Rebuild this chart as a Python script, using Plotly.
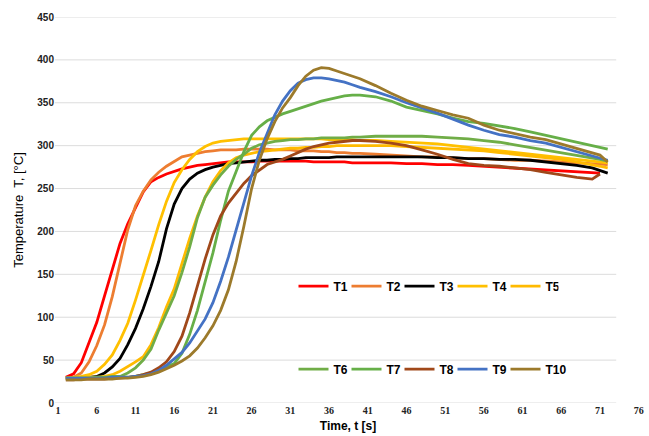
import plotly.graph_objects as go

# time points [s]
time = list(range(2, 41)) + list(range(42, 71, 2)) + [71, 72]

T1 = [30, 34, 47, 70, 94, 125, 157, 186, 209, 228,
      246, 258, 263, 267, 270, 273, 275, 277, 278, 279,
      280, 281, 281, 281, 281, 282, 282, 282, 282, 282,
      282, 282, 281, 281, 281, 281, 281, 280, 280,
      280, 280, 279, 279, 278, 278, 277, 276, 275, 274, 273, 272, 271, 270, 269,
      268, None]
T2 = [29, 30, 35, 48, 67, 91, 124, 163, 202, 230,
      247, 260, 269, 276, 282, 287, 289, 291, 293, 294,
      295, 295, 295, 296, 296, 296, 296, 295, 295, 295,
      294, 294, 294, 293, 293, 292, 292, 291, 291,
      290, 289, 288, 287, 287, 286, 285, 285, 284, 283, 283, 282, 281, 280, 279,
      279, 278]
T3 = [29, 29, 30, 30, 31, 35, 42, 52, 68, 87,
      110, 136, 165, 203, 232, 250, 261, 268, 272, 275,
      277, 279, 280, 281, 282, 283, 283, 284, 284, 285,
      285, 286, 286, 286, 286, 287, 287, 287, 287,
      287, 287, 287, 287, 286, 286, 285, 285, 284, 284, 283, 281, 279, 277, 274,
      271, 268]
T4 = [29, 30, 31, 33, 37, 45, 56, 73, 93, 120,
      148, 178, 208, 235, 257, 272, 284, 293, 299, 303,
      305, 306, 307, 308, 308, 308, 308, 308, 308, 308,
      308, 308, 308, 308, 307, 307, 307, 307, 306,
      306, 305, 304, 303, 302, 300, 298, 296, 294, 292, 290, 288, 286, 284, 282,
      281, 280]
T5 = [29, 29, 29, 30, 30, 31, 33, 37, 42, 48,
      54, 68, 88, 112, 133, 162, 192, 218, 240, 258,
      271, 280, 286, 289, 291, 293, 294, 295, 296, 297,
      297, 298, 298, 299, 299, 300, 300, 300, 300,
      300, 300, 299, 298, 297, 296, 295, 294, 292, 290, 288, 286, 284, 281, 278,
      276, 274]
T6 = [29, 29, 29, 29, 30, 30, 31, 31, 35, 41,
      50, 63, 85, 106, 125, 152, 182, 216, 240, 254,
      266, 276, 284, 290, 297, 301, 303, 305, 306, 307,
      307, 308, 308, 309, 309, 309, 309, 310, 310,
      311, 311, 311, 311, 310, 309, 308, 306, 304, 301, 298, 295, 292, 289, 286,
      284, 282]
T7 = [29, 29, 29, 29, 29, 29, 30, 30, 30, 31,
      33, 35, 38, 42, 46, 58, 80, 108, 140, 175,
      213, 247, 270, 293, 312, 322, 329, 333, 337, 340,
      343, 346, 349, 352, 354, 356, 358, 359, 359,
      357, 352, 345, 341, 337, 332, 328, 326, 323, 320, 316, 312, 308, 304, 300,
      298, 296]
T8 = [27, 27, 28, 28, 28, 28, 29, 29, 30, 31,
      33, 36, 41, 48, 60, 78, 105, 138, 168, 196,
      218, 233, 245, 256, 265, 272, 278, 281, 284, 288,
      292, 296, 299, 301, 303, 304, 305, 306, 306,
      305, 303, 300, 295, 290, 284, 279, 277, 276, 274, 272, 269, 266, 263, 261,
      267, None]
T9 = [29, 29, 29, 29, 29, 29, 30, 30, 30, 31,
      32, 34, 38, 44, 51, 59, 70, 84, 98, 117,
      142, 170, 202, 236, 265, 292, 315, 336, 352, 364,
      373, 377, 379, 379, 378, 376, 374, 371, 368,
      363, 357, 350, 344, 338, 331, 324, 318, 313, 310, 306, 303, 298, 293, 288,
      286, 283]
T10 = [27, 27, 27, 28, 28, 28, 28, 29, 29, 30,
       31, 33, 36, 40, 44, 49, 55, 64, 76, 90,
       108, 132, 165, 206, 250, 283, 308, 328, 344, 356,
       370, 381, 388, 391, 390, 387, 384, 381, 378,
       370, 361, 353, 346, 341, 336, 332, 324, 318, 314, 310, 307, 302, 297, 292,
       289, 281]

names = ["T1", "T2", "T3", "T4", "T5", "T6", "T7", "T8", "T9", "T10"]
series = [T1, T2, T3, T4, T5, T6, T7, T8, T9, T10]
colors = ["#FF0000", "#ED7D31", "#000000", "#FFC000", "#FFBA00",
          "#70AD47", "#66AF48", "#A0481A", "#4472C4", "#9C7A2B"]

x_ticks = list(range(1, 77, 5))
y_ticks = list(range(0, 451, 50))
x_range = [0.6, 76.3]
grid_end = 73.1  # horizontal gridlines stop short of the last tick label

fig = go.Figure()
for i, (nm, vals, col) in enumerate(zip(names, series, colors)):
    fig.add_trace(go.Scatter(
        x=time, y=vals, name=nm, mode="lines",
        line=dict(color=col, width=2.8),
        legend="legend" if i < 5 else "legend2",
    ))
# blank spacer entry so the last legend label is not clipped
fig.add_trace(go.Scatter(x=[None], y=[None], name=" ", mode="lines",
                         line=dict(color="rgba(0,0,0,0)", width=0),
                         legend="legend2", hoverinfo="skip"))

for v in y_ticks:
    fig.add_shape(type="line", xref="x", yref="y", x0=x_range[0], x1=grid_end,
                  y0=v, y1=v, line=dict(color="#DCDCDC", width=1), layer="below")

legend_common = dict(
    orientation="h", xanchor="left", yanchor="middle",
    bgcolor="rgba(0,0,0,0)", entrywidth=8, itemwidth=30,
    font=dict(family="Liberation Sans Narrow, Liberation Sans, Arial", size=12,
              color="#000000", weight="bold"),
    tracegroupgap=0,
)

fig.update_layout(
    width=649, height=436,
    margin=dict(l=55, r=5, t=17, b=33),
    plot_bgcolor="#FFFFFF", paper_bgcolor="#FFFFFF",
    showlegend=True,
    legend=dict(x=0.407, y=0.303, **legend_common),
    legend2=dict(x=0.407, y=0.088, **legend_common),
    xaxis=dict(
        range=x_range, tickvals=x_ticks, ticktext=[str(v) for v in x_ticks],
        showgrid=False, zeroline=False, showline=False, ticks="",
        tickfont=dict(family="Liberation Serif, DejaVu Serif", size=10, color="#222222", weight="bold"),
        title=dict(text="Time, t [s]", standoff=6,
                   font=dict(family="Liberation Sans Narrow, Liberation Sans, Arial", size=12,
                             color="#000000", weight="bold")),
    ),
    yaxis=dict(
        range=[0, 450], tickvals=y_ticks,
        showgrid=False, zeroline=False, showline=False, ticks="",
        tickfont=dict(family="Liberation Sans Narrow, Liberation Sans, Arial", size=10, color="#222222", weight="bold"),
        title=dict(text="Temperature  T, [°C]", standoff=10,
                   font=dict(family="Liberation Sans, Arial", size=13, color="#000000")),
    ),
)

fig.write_html("out.html")
